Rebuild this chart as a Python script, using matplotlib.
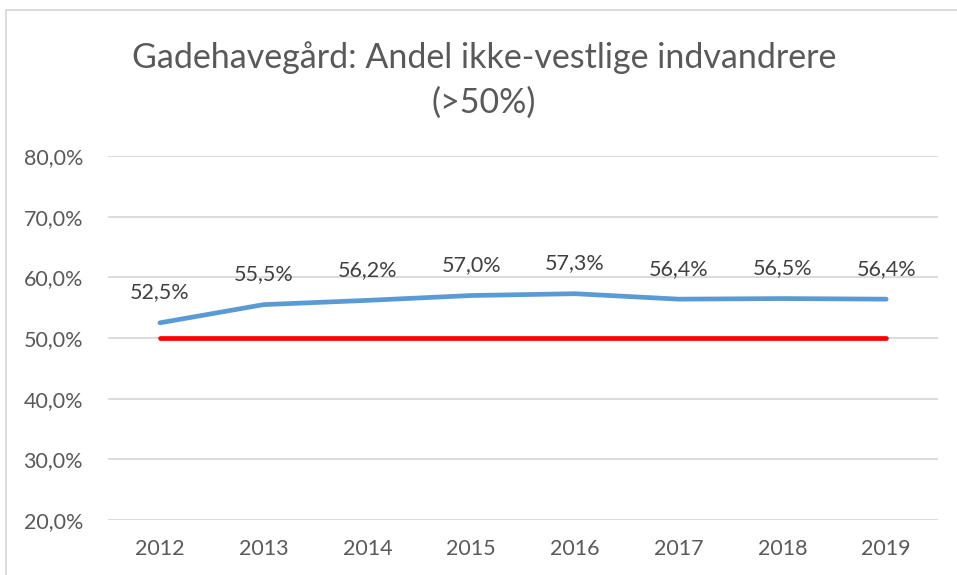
import matplotlib.pyplot as plt
from matplotlib.patches import Rectangle

OUTPUT_FILE = "out.png"

years = ["2012", "2013", "2014", "2015", "2016", "2017", "2018", "2019"]
share = [52.5, 55.5, 56.2, 57.0, 57.3, 56.4, 56.5, 56.4]
threshold = [50.0] * len(years)
y_ticks = [20, 30, 40, 50, 60, 70, 80]

GRAY, DARK = "#595959", "#404040"
plt.rcParams["font.family"] = ["Lato", "DejaVu Sans"]

x = list(range(len(years)))

fig = plt.figure(figsize=(9.57, 5.75), dpi=100)
fig.patches.append(Rectangle((6 / 957, -0.1), 1.1, 1.1 - 10 / 575, transform=fig.transFigure,
                             fill=False, edgecolor="#d9d9d9", linewidth=1.3))
ax = fig.add_axes([0.1129, 0.0957, 0.8673, 0.633])

plt.plot(x, threshold, color="#ff0000", linewidth=3.4, solid_capstyle="round", zorder=3)
plt.plot(x, share, color="#5b9bd5", linewidth=3.4, solid_capstyle="round", zorder=4)

for xi, v in zip(x, share):
    plt.annotate(f"{v:.1f}%".replace(".", ","), (xi, v), xytext=(0, 22), textcoords="offset points",
                 ha="center", va="center", fontsize=15.5, color=DARK)

plt.xlim(-0.5, len(years) - 0.5)
plt.ylim(20, 80)
plt.xticks(x, years)
plt.yticks(y_ticks, [f"{t:.1f}%".replace(".", ",") for t in y_ticks])
plt.grid(axis="y", color="#d9d9d9", linewidth=1.3)
ax.set_axisbelow(True)
ax.tick_params(axis="both", length=0, labelsize=15.5, labelcolor=GRAY)
ax.tick_params(axis="y", pad=18)
ax.tick_params(axis="x", pad=14)
for side in ax.spines.values():
    side.set_visible(False)

fig.text(484 / 957, 1 - 80 / 575, "Gadehavegård: Andel ikke-vestlige indvandrere\n(>50%)",
         ha="center", va="center", fontsize=24.5, color=GRAY, linespacing=1.45)

plt.savefig(OUTPUT_FILE)
plt.close()
